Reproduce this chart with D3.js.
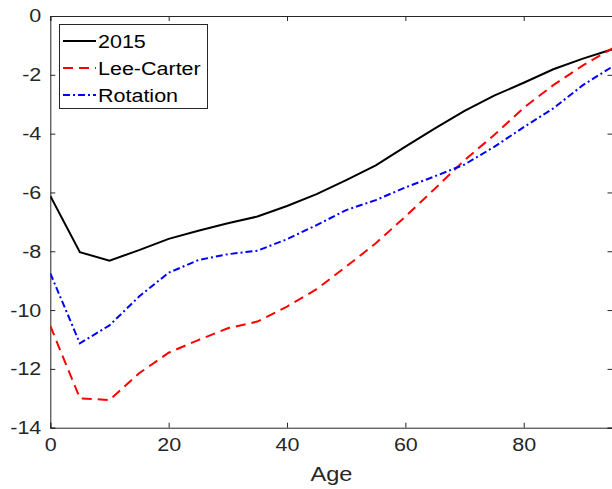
<!DOCTYPE html>
<html>
<head>
<meta charset="utf-8">
<script src="https://cdn.jsdelivr.net/npm/d3@7"></script>
<style>
  body { margin: 0; background: #fff; }
  svg { display: block; }
</style>
</head>
<body>
<div id="chart"></div>
<script>
const ages = [0, 5, 10, 15, 20, 25, 30, 35, 40, 45, 50, 55, 60, 65, 70, 75, 80, 85, 90, 95]
const y2015 = [-6.12, -8.03, -8.32, -7.96, -7.58, -7.30, -7.05, -6.82, -6.46, -6.06, -5.58, -5.08, -4.44, -3.82, -3.23, -2.71, -2.27, -1.81, -1.45, -1.13]
const leeCarter = [-10.54, -13.0, -13.06, -12.15, -11.45, -11.02, -10.62, -10.39, -9.88, -9.29, -8.52, -7.73, -6.82, -5.87, -4.9, -4.05, -3.12, -2.35, -1.68, -1.1]
const rotation = [-8.75, -11.13, -10.52, -9.54, -8.73, -8.30, -8.10, -7.98, -7.59, -7.11, -6.6, -6.26, -5.83, -5.45, -5.05, -4.45, -3.78, -3.14, -2.35, -1.72]
const xTicks = [0, 20, 40, 60, 80]
const yTicks = [0, -2, -4, -6, -8, -10, -12, -14]

const series = [
  { label: "2015", values: y2015, color: "#000000", dash: null },
  { label: "Lee-Carter", values: leeCarter, color: "#ff0000", dash: "10 6" },
  { label: "Rotation", values: rotation, color: "#0000ff", dash: "7 3 2 3" },
]

const width = 612, height = 489
const margin = { top: 16, right: -0.5, bottom: 61.3, left: 50.3 }
const innerW = width - margin.left - margin.right
const innerH = height - margin.top - margin.bottom
const axisColor = "#262626"
const font = "Helvetica, 'Liberation Sans', Arial, sans-serif"
const fs = 18.7
const stretch = 1.15   // reference glyphs are a little wider than Liberation Sans

const svg = d3.select("#chart").append("svg")
  .attr("width", width)
  .attr("height", height)

const x = d3.scaleLinear().domain([0, 95]).range([0, innerW])
const y = d3.scaleLinear().domain([-14, 0]).range([innerH, 0])

const g = svg.append("g")
  .attr("transform", `translate(${margin.left},${margin.top})`)

svg.append("defs").append("clipPath").attr("id", "clip")
  .append("rect").attr("width", innerW).attr("height", innerH)

// Axes (inward ticks on all four sides, MATLAB style)
const tick = 5
const axBottom = g.append("g").attr("transform", `translate(0,${innerH})`)
  .call(d3.axisBottom(x).tickValues(xTicks).tickSize(-tick).tickPadding(10).tickFormat(d3.format("d")))
const axTop = g.append("g")
  .call(d3.axisTop(x).tickValues(xTicks).tickSize(-tick).tickFormat(""))
const axLeft = g.append("g")
  .call(d3.axisLeft(y).tickValues(yTicks).tickSize(-tick).tickPadding(8))
const axRight = g.append("g").attr("transform", `translate(${innerW},0)`)
  .call(d3.axisRight(y).tickValues(yTicks).tickSize(-tick).tickFormat(""))

;[axBottom, axTop, axLeft, axRight].forEach(a => {
  a.select(".domain").attr("stroke", axisColor).attr("stroke-width", 1)
  a.selectAll(".tick line").attr("stroke", axisColor).attr("stroke-width", 1)
  a.selectAll("text")
    .attr("fill", axisColor)
    .attr("font-family", font)
    .attr("font-size", fs)
    .attr("transform", `scale(${stretch},1)`)
})
axLeft.selectAll("text")
  .attr("x", -9 / stretch)
  .text(d => d === 0 ? "0" : "-" + Math.abs(d))

// X label
g.append("text")
  .attr("transform", `translate(${innerW / 2},${innerH + 53}) scale(${stretch},1)`)
  .attr("text-anchor", "middle")
  .attr("fill", axisColor)
  .attr("font-family", font)
  .attr("font-size", 20.5)
  .text("Age")

// Lines
const line = d3.line()
  .x((d, i) => x(ages[i]))
  .y(d => y(d))

const plot = g.append("g").attr("clip-path", "url(#clip)")
series.forEach(s => {
  plot.append("path")
    .datum(s.values)
    .attr("fill", "none")
    .attr("stroke", s.color)
    .attr("stroke-width", 2)
    .attr("stroke-dasharray", s.dash)
    .attr("d", line)
})

// Legend
const legend = svg.append("g").attr("transform", "translate(59,24)")
legend.append("rect")
  .attr("x", 0.5).attr("y", 0.5)
  .attr("width", 148).attr("height", 84)
  .attr("fill", "#fff")
  .attr("stroke", axisColor)
  .attr("stroke-width", 1)

series.forEach((s, i) => {
  const cy = 17 + i * 27
  legend.append("line")
    .attr("x1", 4).attr("x2", 37)
    .attr("y1", cy).attr("y2", cy)
    .attr("stroke", s.color)
    .attr("stroke-width", 2)
    .attr("stroke-dasharray", s.dash)
  legend.append("text")
    .attr("transform", `translate(39,${cy + 6.7}) scale(${stretch},1)`)
    .attr("fill", "#000")
    .attr("font-family", font)
    .attr("font-size", fs)
    .text(s.label)
})
</script>
</body>
</html>
